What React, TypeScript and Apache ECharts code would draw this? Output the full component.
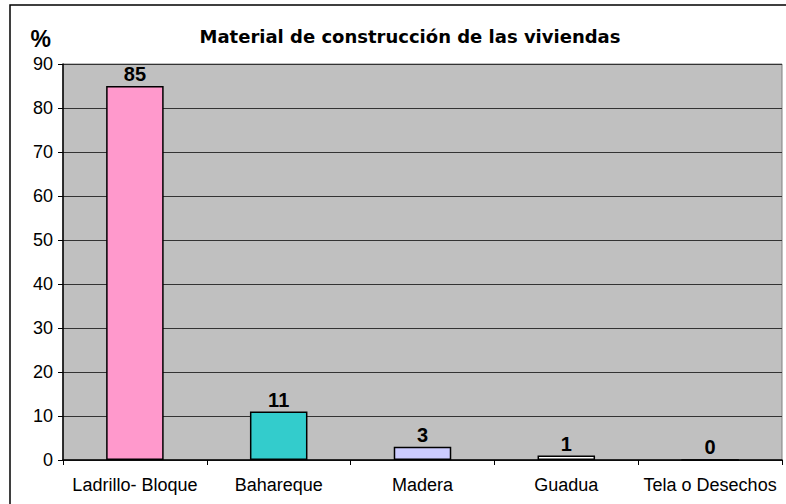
import React, { useEffect, useRef } from "react";
import * as echarts from "echarts";

const categories = ["Ladrillo- Bloque", "Bahareque", "Madera", "Guadua", "Tela o Desechos"];
const values = [85, 11, 3, 1, 0];
const barColors = ["#FF99CC", "#33CCCC", "#CCCCFF", "#FFFFFF", "#FFFFFF"];
const yTicks = { min: 0, max: 90, interval: 10 };
const titleText = "Material de construcción de las viviendas";
const yName = "%";

const FONT = "'Liberation Sans', Arial, sans-serif";

export default function App() {
  const ref = useRef<HTMLDivElement>(null);
  useEffect(() => {
    if (!ref.current) return;
    const chart = echarts.init(ref.current, undefined, { renderer: "svg" });
    chart.setOption({
      animation: false,
      backgroundColor: "#FFFFFF",
      title: {
        text: titleText,
        left: 405,
        top: 22,
        textAlign: "center",
        textStyle: { fontFamily: "'DejaVu Sans', sans-serif", fontWeight: "bold", fontSize: 18, color: "#000" },
      },
      graphic: [
        {
          type: "rect",
          z: -10,
          shape: { x: 10, y: 5, width: 800, height: 520 },
          style: { fill: "none", stroke: "#000", lineWidth: 1.5 },
        },
      ],
      grid: {
        left: 63,
        top: 64,
        right: 4,
        bottom: 44,
        show: true,
        backgroundColor: "#C0C0C0",
        borderColor: "#808080",
        borderWidth: 1,
      },
      xAxis: {
        type: "category",
        data: categories,
        axisLine: { show: true, lineStyle: { color: "#000", width: 1.5 } },
        axisTick: { show: true, length: 5, lineStyle: { color: "#000" } },
        axisLabel: { fontFamily: FONT, fontSize: 18, color: "#000", margin: 16, interval: 0 },
        splitLine: { show: false },
      },
      yAxis: {
        type: "value",
        min: yTicks.min,
        max: yTicks.max,
        interval: yTicks.interval,
        name: yName,
        nameLocation: "end",
        nameGap: 14,
        nameTextStyle: {
          fontFamily: FONT,
          fontWeight: "bold",
          fontSize: 23,
          color: "#000",
          align: "right",
          padding: [0, 12, 0, 0],
        },
        axisLine: { show: true, lineStyle: { color: "#000", width: 1.5 } },
        axisTick: { show: true, length: 5, lineStyle: { color: "#000" } },
        axisLabel: { fontFamily: FONT, fontSize: 18, color: "#000", margin: 10 },
        splitLine: { show: true, lineStyle: { color: "#333", width: 1 } },
      },
      series: [
        {
          type: "bar",
          data: values.map((v, i) => ({ value: v, itemStyle: { color: barColors[i] } })),
          barWidth: "40%",
          itemStyle: { borderColor: "#000", borderWidth: 1.5 },
          label: {
            show: true,
            position: "top",
            distance: 2,
            fontFamily: FONT,
            fontWeight: "bold",
            fontSize: 20,
            color: "#000",
          },
        },
      ],
    });
    return () => chart.dispose();
  }, []);
  return (
    <div
      ref={ref}
      style={{ position: "fixed", left: 0, top: 0, width: 786, height: 504 }}
    />
  );
}
